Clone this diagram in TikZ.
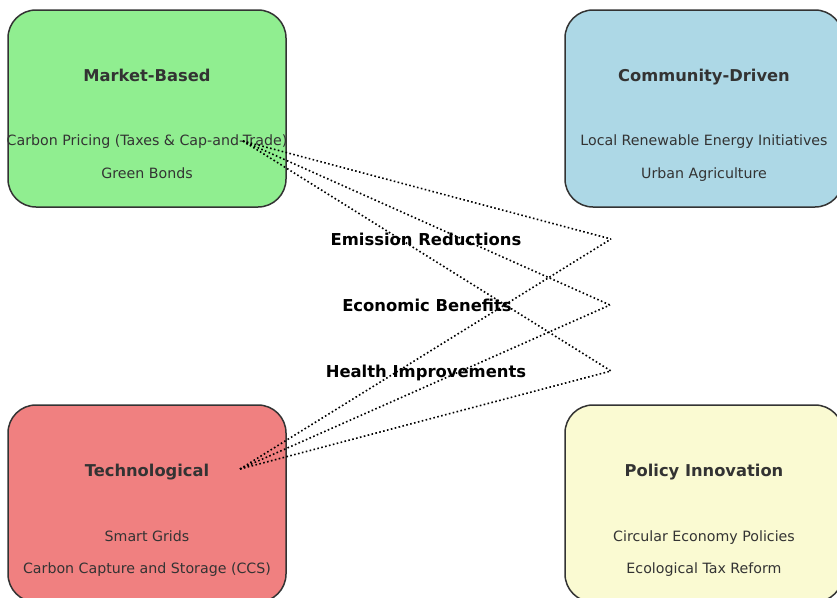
\documentclass[tikz,border=0pt]{standalone}
\usepackage{fontspec}
\setmainfont{DejaVu Sans}
\definecolor{mktgreen}{HTML}{90EE90}
\definecolor{commblue}{HTML}{ADD8E6}
\definecolor{techred}{HTML}{F08080}
\definecolor{policyyellow}{HTML}{FAFAD2}
\definecolor{edgegray}{HTML}{333333}
\definecolor{textgray}{HTML}{333333}
\begin{document}
\begin{tikzpicture}[x=1pt,y=-1pt,
  panel/.style={draw=edgegray, line width=1.5pt, rounded corners=28pt,
    minimum width=278pt, minimum height=197pt, inner sep=0pt},
  title/.style={font=\fontsize{16.3}{19}\selectfont\bfseries, text=textgray, inner sep=0pt, anchor=base},
  item/.style={font=\fontsize{14.2}{17}\selectfont, text=textgray, inner sep=0pt, anchor=base},
  outcome/.style={font=\fontsize{16.4}{19}\selectfont\bfseries, text=black, inner sep=0pt, anchor=base},
  link/.style={draw=black, line width=1.6pt, dash pattern=on 1.6pt off 2.4pt}]
\useasboundingbox (0,0) rectangle (837,597);
\clip (0,0) rectangle (837,597);

% four strategy panels
\node[panel, fill=mktgreen] (market) at (147,108.5) {};
\node[panel, fill=commblue] (community) at (704,108.5) {};
\node[panel, fill=techred] (tech) at (147,503.5) {};
\node[panel, fill=policyyellow] (policy) at (704,503.5) {};

% panel contents (positions are baselines)
\node[title] (market-t) at (147,81) {Market-Based};
\node[item] (market-1) at (147,145) {Carbon Pricing (Taxes \& Cap-and-Trade)};
\node[item] (market-2) at (147,178) {Green Bonds};

\node[title] (community-t) at (704,81) {Community-Driven};
\node[item] (community-1) at (704,145) {Local Renewable Energy Initiatives};
\node[item] (community-2) at (704,178) {Urban Agriculture};

\node[title] (tech-t) at (147,476) {Technological};
\node[item] (tech-1) at (147,541) {Smart Grids};
\node[item] (tech-2) at (147,573) {Carbon Capture and Storage (CCS)};

\node[title] (policy-t) at (704,476) {Policy Innovation};
\node[item] (policy-1) at (704,541) {Circular Economy Policies};
\node[item] (policy-2) at (704,573) {Ecological Tax Reform};

% link end points
\coordinate (mkt-src) at (243,141);
\coordinate (tech-src) at (240,469);
\coordinate (emis-pt) at (611,239);
\coordinate (econ-pt) at (610,305);
\coordinate (health-pt) at (611,371);

% dotted links to outcomes
\foreach \src in {mkt-src, tech-src}{
  \foreach \dst in {emis-pt, econ-pt, health-pt}{
    \draw[link] (\src) -- (\dst);
  }
}

% outcome labels (positions are baselines)
\node[outcome] (emis) at (426,245) {Emission Reductions};
\node[outcome] (econ) at (427,311) {Economic Benefits};
\node[outcome] (health) at (426,377) {Health Improvements};
\end{tikzpicture}
\end{document}
